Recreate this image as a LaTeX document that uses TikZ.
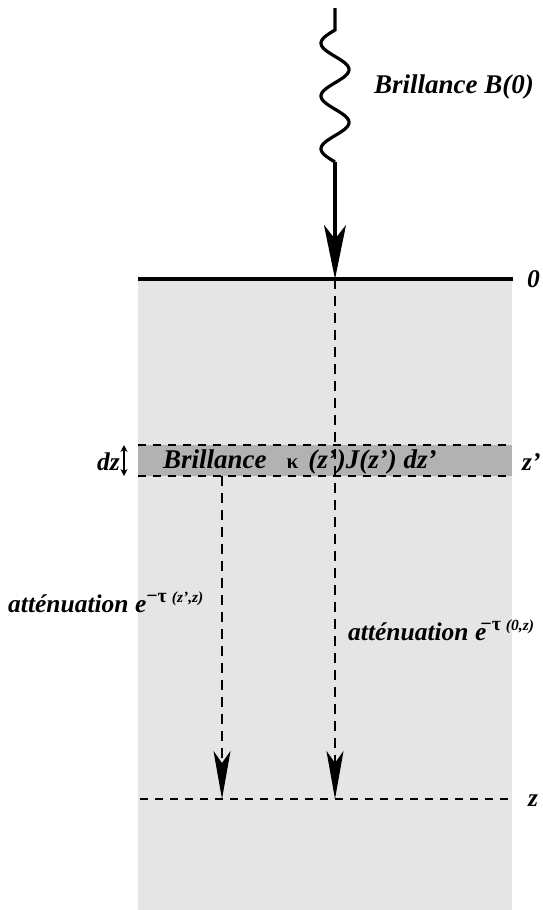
\documentclass[tikz,border=0pt]{standalone}
\usepackage{fontspec}
\setmainfont{Liberation Serif}
\usetikzlibrary{arrows.meta}
\definecolor{milieu}{gray}{0.9}
\definecolor{couche}{gray}{0.7}
\tikzset{>=Stealth,every node/.style={font=\fontsize{25.5}{30}\selectfont\bfseries\itshape,inner sep=0pt},
  grand/.style={font=\fontsize{27}{32}\selectfont\bfseries\itshape},
  rayon/.style={line width=3.2pt,-{Stealth[length=54pt,width=22pt,inset=14pt]}},
  trajet/.style={line width=2.6pt,dash pattern=on 10pt off 7pt,-{Stealth[length=48pt,width=17pt,inset=12pt]}},
  niveau/.style={line width=1.4pt,dash pattern=on 8pt off 7pt}}
\newcommand{\sexp}[1]{\textsuperscript{\fontsize{20}{24}\selectfont\upshape\bfseries #1}}
\newcommand{\argz}[1]{{\fontsize{15.5}{18}\selectfont\itshape #1}}
\begin{document}
\begin{tikzpicture}[x=1pt,y=-1pt]
\useasboundingbox (0,0) rectangle (542,910);
\fill[milieu] (138,279) rectangle (512,910);
\fill[couche] (138,445) rectangle (512,476);
\coordinate (src) at (335,8);\coordinate (wtop) at (335,30);\coordinate (wbot) at (335,162);\coordinate (top) at (335,279);
\coordinate (surfL) at (138,279);\coordinate (surfR) at (513,279);
\coordinate (hautL) at (138,445);\coordinate (hautR) at (512,445);\coordinate (basL) at (138,476);\coordinate (basR) at (512,476);
\coordinate (zL) at (140,799);\coordinate (zR) at (512,799);
\coordinate (depart) at (222,476);\coordinate (arr1) at (222,799);\coordinate (arr2) at (335,799);
\coordinate (dzA) at (124,445);\coordinate (dzB) at (124,476);
% rayonnement incident
\draw[line width=3.2pt] (src)--(wtop) -- plot[domain=30:162,samples=120,smooth] ({335-14*sin(6.818*(\x-30))},\x);
\draw[rayon] (wbot)--(top);
\draw[line width=3.2pt] (surfL)--(surfR);
% couche dz
\draw[niveau] (hautL)--(hautR);\draw[niveau] (basL)--(basR);\draw[niveau] (zL)--(zR);
\draw[line width=1.4pt,{Stealth[length=7pt,width=7pt]}-{Stealth[length=7pt,width=7pt]}] (dzA)--(dzB);
\draw[trajet] (top)--(arr2);
\draw[trajet] (depart)--(arr1);
% textes
\node[grand,anchor=base west] (lbB) at (374,93) {Brillance B(0)};
\node[anchor=base west] (lb0) at (527,287) {0};
\node[anchor=base east] (lbdz) at (120,470) {dz};
\node[anchor=base west] (lbzp) at (522,470) {z'};
\node[anchor=base west] (lbz) at (528,806) {z};
\node[grand,anchor=base west] (lbcouche) at (163,468) {Brillance\kern 20pt{\fontsize{21}{24}\selectfont\upshape κ}\kern 10pt(z')J(z') dz'};
\node[anchor=base west] (lbatt1) at (8,612) {atténuation e\sexp{−τ \argz{(z',z)}}};
\node[anchor=base west] (lbatt2) at (348,640) {atténuation e\sexp{\kern-0.3em−τ \argz{(0,z)}}};
\end{tikzpicture}
\end{document}
